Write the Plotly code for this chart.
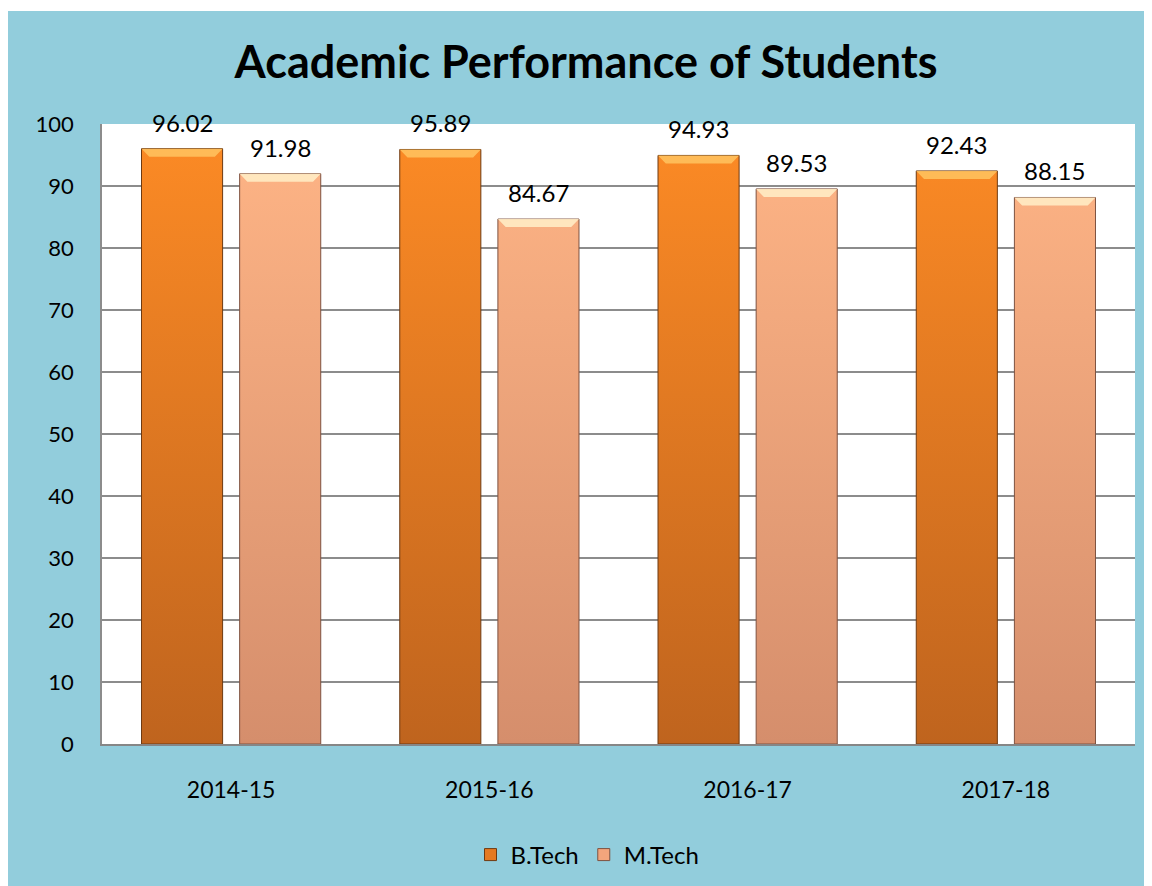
import plotly.graph_objects as go

years = ["2014-15", "2015-16", "2016-17", "2017-18"]
btech = [96.02, 95.89, 94.93, 92.43]
mtech = [91.98, 84.67, 89.53, 88.15]

BLUE = "#92CDDC"
FONT = "Lato"
BAR_W = 0.314


def bar_shapes(values, offset, width=BAR_W):
    # closed rectangles in data coords, split by None
    xs, ys = [], []
    for i, v in enumerate(values):
        x0 = i + offset - width / 2
        x1 = i + offset + width / 2
        xs += [x0, x0, x1, x1, x0, None]
        ys += [0, v, v, 0, 0, None]
    return xs, ys


def bevel_shapes(values, offset, width=BAR_W, h=1.3, d=0.03):
    # light trapezoid on top of each bar
    xs, ys = [], []
    for i, v in enumerate(values):
        x0 = i + offset - width / 2
        x1 = i + offset + width / 2
        xs += [x0, x1, x1 - d, x0 + d, x0, None]
        ys += [v, v, v - h, v - h, v, None]
    return xs, ys


fig = go.Figure()

series = [
    ("B.Tech", btech, -0.19, "#BF641E", "#FD8B25", "#6E3A12", "rgba(255,196,96,0.85)", "#E57A22"),
    ("M.Tech", mtech, 0.19, "#D58E6C", "#FFB586", "#7E5240", "rgba(255,236,196,0.9)", "#F2A57C"),
]

for name, vals, off, bottom, top, edge, bevel, legend_col in series:
    xs, ys = bar_shapes(vals, off)
    fig.add_trace(
        go.Scatter(
            x=xs,
            y=ys,
            mode="lines",
            fill="toself",
            name=name,
            showlegend=False,
            line=dict(color=edge, width=1),
            fillgradient=dict(
                type="vertical",
                colorscale=[[0, bottom], [1, top]],
                start=0,
                stop=100
            ),
            hoverinfo="skip"
        )
    )
    bx, by = bevel_shapes(vals, off)
    fig.add_trace(
        go.Scatter(
            x=bx,
            y=by,
            mode="lines",
            fill="toself",
            fillcolor=bevel,
            line=dict(width=0),
            showlegend=False,
            hoverinfo="skip"
        )
    )
    # legend entry only
    fig.add_trace(
        go.Bar(
            x=[None],
            y=[None],
            name=name,
            marker=dict(color=legend_col, line=dict(color=edge, width=1))
        )
    )
    # value labels
    for i, v in enumerate(vals):
        fig.add_annotation(
            x=i + off,
            y=v,
            text=f"{v:.2f}",
            showarrow=False,
            yanchor="bottom",
            yshift=10,
            font=dict(size=24, color="black", family=FONT)
        )

# thin white strip at the very top
fig.add_shape(type="rect", xref="paper", yref="paper",
              x0=-0.2, x1=1.2, y0=1.1823, y1=1.3,
              fillcolor="white", line_width=0, layer="below")

fig.update_layout(
    width=1152,
    height=886,
    paper_bgcolor=BLUE,
    plot_bgcolor="white",
    font=dict(family=FONT, color="black"),
    title=dict(
        text="<b>Academic Performance of Students</b>",
        x=578 / 1152,
        xanchor="center",
        y=1 - 54 / 886,
        yanchor="middle",
        font=dict(size=45, family=FONT, color="black")
    ),
    margin=dict(l=94, r=25, t=116, b=150),
    showlegend=True,
    legend=dict(
        orientation="h",
        x=0.47,
        xanchor="center",
        y=-0.179,
        yanchor="middle",
        font=dict(size=24),
        bgcolor="rgba(0,0,0,0)"
    ),
    xaxis=dict(
        range=[-0.5, 3.5],
        tickvals=[0, 1, 2, 3],
        ticktext=years,
        showgrid=False,
        zeroline=False,
        showline=True,
        linecolor="#868686",
        linewidth=2,
        ticks="",
        ticklabelstandoff=24,
        tickfont=dict(size=23)
    ),
    yaxis=dict(
        range=[0, 100],
        dtick=10,
        showgrid=True,
        gridcolor="#8C8C8C",
        gridwidth=1.5,
        zeroline=False,
        showline=True,
        linecolor="#8C8C8C",
        linewidth=1.5,
        ticks="",
        ticklabelstandoff=22,
        tickfont=dict(size=22)
    )
)

fig.write_html("out.html")
